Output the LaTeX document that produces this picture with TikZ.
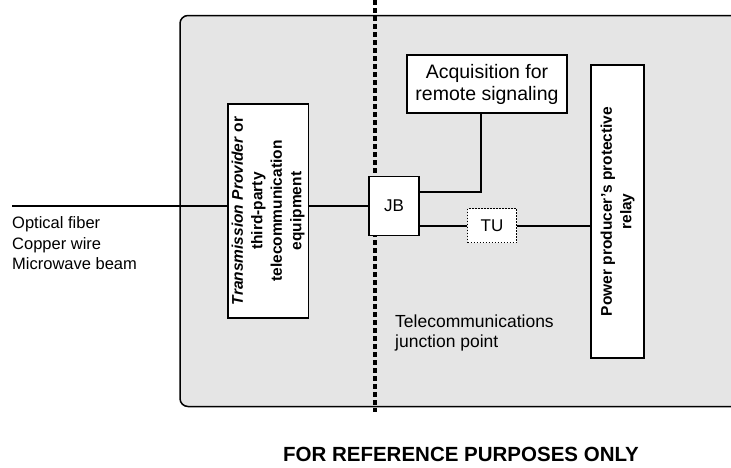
\documentclass[tikz,border=0pt]{standalone}
\usepackage{fontspec}
\setmainfont{Liberation Sans}
\usetikzlibrary{positioning}
\definecolor{panel}{HTML}{E5E5E5}
\tikzstyle{block} = [rectangle, draw=black, line width=1.5pt, fill=white, inner sep=0pt, align=center, font=\fontsize{17}{20.5}\selectfont]
\tikzstyle{vblock} = [block, rotate=90, font=\bfseries\fontsize{15.5}{19.5}\selectfont]
\tikzstyle{unit} = [block, line width=1pt, dash pattern=on 1.5pt off 1.5pt]
\tikzstyle{line} = [line width=2pt]
\tikzstyle{boundary} = [line width=3.2pt, dash pattern=on 5pt off 3pt]
\tikzstyle{note} = [align=left, anchor=west, inner sep=0pt, font=\fontsize{16.5}{20.5}\selectfont]

\begin{document}
\begin{tikzpicture}[x=1pt, y=-1pt, node distance=100pt]
\useasboundingbox (0,0) rectangle (731,467);

% Panel and junction boundary
\draw [fill=panel, line width=1.5pt, rounded corners=8pt] (180,15.5) rectangle (770,406.5);
\coordinate (top) at (375,0);
\coordinate (bottom) at (375,412);
\draw [boundary] (top) -- (bottom);

% Nodes
\node (equip) [vblock, minimum width=214pt, minimum height=80.5pt] at (268,211) {\textit{Transmission Provider} or\\third-party\\telecommunication\\equipment};
\node (jb) [block, minimum width=50pt, minimum height=59pt, right of=equip, xshift=26pt, yshift=5pt] {JB};
\node (tu) [unit, minimum width=49pt, minimum height=34pt, right of=jb, xshift=-2pt, yshift=-19.5pt] {TU};
\node (acq) [block, minimum width=160pt, minimum height=58pt, font=\fontsize{19.5}{22}\selectfont] at (487,84) {Acquisition for\\remote signaling};
\node (relay) [vblock, line width=2pt, minimum width=293pt, minimum height=53pt] at (617.5,211.5) {Power producer’s protective\\relay};

% Labels
\node (media) [note] at (12,243.5) {Optical fiber\\Copper wire\\Microwave beam};
\node (junction) [note, font=\fontsize{17.5}{20.5}\selectfont] at (395,333) {Telecommunications\\junction point};
\node (stamp) [inner sep=0pt, font=\bfseries\fontsize{20.5}{24}\selectfont] at (461,454) {FOR REFERENCE PURPOSES ONLY};

% Lines
\coordinate (feed) at (12,206);
\draw [line] (feed) -- (feed -| equip.north);
\draw [line] (equip.south |- jb.west) -- (jb.west);
\draw [line] ([yshift=14pt]jb.east) -| ([xshift=-6pt]acq.south);
\draw [line] (tu.west -| jb.east) -- (tu.west);
\draw [line] (tu.east) -- (tu.east -| relay.north);

\end{tikzpicture}
\end{document}
